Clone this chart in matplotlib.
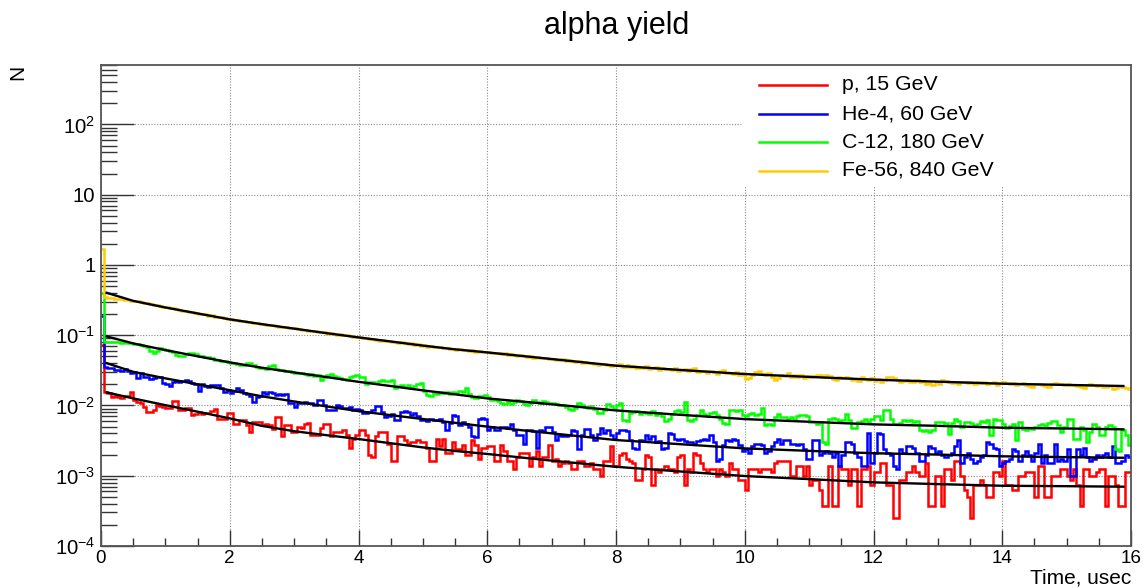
import numpy as np
import matplotlib
matplotlib.use("Agg")
import matplotlib.pyplot as plt
from matplotlib.ticker import MultipleLocator, LogLocator, FuncFormatter, NullFormatter
from matplotlib.patches import Rectangle
from matplotlib.lines import Line2D

plt.rcParams['font.family'] = ['Liberation Sans', 'DejaVu Sans']
plt.rcParams['mathtext.fontset'] = 'custom'
plt.rcParams['mathtext.rm'] = 'Liberation Sans'
plt.rcParams['mathtext.it'] = 'Liberation Sans:italic'
plt.rcParams['mathtext.bf'] = 'Liberation Sans:bold'

# ---------------- data ----------------
title = "alpha yield"
x_title = "Time, usec"
y_title = "N"
bin_width = 0.05          # usec
n_bins = 320
count_scale = 1.0 / 8000  # N per count

series_labels = ["p, 15 GeV", "He-4, 60 GeV", "C-12, 180 GeV", "Fe-56, 840 GeV"]
series_colors = ["#ff0000", "#0000ff", "#00ff00", "#ffcc00"]

counts_p = [
    576, 125, 119, 106, 108, 104, 101, 110, 110, 123, 95, 90, 86, 77, 65, 65, 70, 81, 78, 77,
    73, 73, 93, 93, 69, 69, 73, 73, 58, 60, 65, 60, 62, 62, 66, 71, 52, 52, 52, 63,
    63, 44, 44, 50, 50, 42, 34, 47, 47, 47, 42, 44, 42, 37, 55, 55, 29, 42, 42, 34,
    34, 40, 38, 44, 45, 30, 30, 30, 38, 44, 44, 29, 33, 33, 33, 36, 30, 20, 27, 30,
    36, 36, 30, 16, 15, 29, 34, 34, 34, 23, 13, 13, 29, 29, 26, 23, 24, 24, 26, 24,
    24, 20, 13, 13, 27, 21, 27, 17, 17, 24, 19, 19, 22, 16, 16, 26, 22, 14, 20, 20,
    21, 21, 13, 13, 22, 18, 13, 13, 10, 15, 17, 17, 17, 11, 15, 18, 11, 15, 15, 22,
    13, 14, 11, 12, 13, 12, 10, 10, 13, 13, 11, 11, 12, 10, 10, 8, 13, 13, 21, 11,
    11, 16, 17, 14, 13, 12, 7, 7, 10, 16, 15, 6, 10, 9, 10, 11, 10, 10, 9, 15,
    16, 6, 10, 9, 17, 16, 12, 10, 9, 10, 10, 8, 10, 9, 8, 12, 10, 10, 7, 7,
    5, 10, 10, 10, 9, 10, 10, 10, 9, 12, 13, 13, 13, 13, 8, 8, 11, 11, 8, 11,
    6, 7, 7, 5, 3, 3, 11, 3, 3, 11, 10, 10, 6, 10, 10, 3, 10, 10, 11, 6,
    9, 9, 12, 12, 6, 6, 2, 2, 7, 7, 9, 9, 11, 9, 8, 8, 12, 3, 3, 8,
    8, 3, 10, 10, 7, 13, 13, 8, 5, 4, 2, 6, 6, 7, 6, 4, 4, 9, 9, 8,
    13, 6, 6, 5, 5, 8, 8, 9, 9, 9, 4, 11, 11, 4, 4, 8, 8, 8, 10, 10,
    8, 7, 10, 6, 3, 10, 10, 8, 8, 9, 10, 10, 3, 8, 8, 6, 3, 3, 9, 9,
]

counts_he = [
    1520, 284, 275, 270, 255, 258, 250, 268, 245, 235, 240, 194, 229, 205, 200, 188, 195, 205, 200, 165,
    160, 150, 174, 176, 172, 180, 182, 178, 165, 160, 129, 162, 150, 145, 156, 158, 154, 140, 125, 132,
    119, 130, 140, 132, 122, 115, 108, 90, 104, 110, 125, 118, 126, 120, 112, 115, 114, 116, 88, 87,
    77, 86, 88, 89, 87, 88, 82, 96, 95, 80, 69, 70, 68, 81, 78, 73, 74, 76, 69, 72,
    70, 63, 62, 64, 70, 78, 78, 64, 55, 56, 60, 50, 49, 65, 66, 64, 58, 63, 56, 50,
    50, 48, 52, 50, 49, 51, 47, 36, 45, 58, 57, 42, 46, 44, 40, 29, 28, 52, 53, 51,
    36, 40, 36, 36, 40, 40, 38, 44, 36, 30, 30, 23, 36, 36, 35, 20, 36, 35, 40, 40,
    33, 26, 30, 29, 29, 30, 36, 35, 19, 30, 37, 37, 30, 26, 31, 38, 32, 36, 30, 27,
    32, 36, 36, 35, 26, 20, 19, 26, 25, 30, 27, 29, 24, 25, 19, 20, 32, 31, 27, 26,
    27, 25, 24, 24, 23, 25, 26, 27, 26, 30, 24, 13, 14, 22, 26, 25, 27, 26, 22, 18,
    19, 17, 21, 23, 23, 22, 17, 18, 21, 24, 27, 23, 26, 26, 23, 23, 22, 23, 19, 14,
    14, 26, 26, 16, 17, 18, 17, 15, 17, 11, 16, 24, 24, 23, 17, 15, 11, 11, 32, 12,
    17, 32, 31, 19, 17, 16, 11, 10, 19, 17, 21, 21, 20, 17, 13, 13, 16, 21, 20, 17,
    18, 16, 15, 16, 17, 21, 26, 12, 15, 17, 14, 12, 13, 15, 16, 24, 23, 20, 19, 11,
    12, 13, 14, 19, 18, 13, 16, 18, 16, 13, 17, 23, 12, 16, 12, 12, 23, 13, 14, 13,
    19, 8, 8, 19, 16, 20, 15, 13, 14, 16, 15, 16, 17, 15, 21, 12, 12, 13, 16, 15,
]

counts_c = [
    3200, 640, 650, 640, 630, 645, 625, 630, 610, 615, 605, 600, 575, 560, 540, 470, 450, 480, 520, 515,
    495, 480, 455, 420, 405, 400, 430, 445, 440, 425, 400, 410, 390, 395, 385, 360, 355, 345, 340, 335,
    325, 318, 310, 300, 305, 320, 325, 300, 285, 270, 272, 268, 290, 300, 262, 255, 258, 250, 245, 238,
    232, 228, 235, 225, 220, 222, 210, 215, 184, 200, 218, 222, 212, 205, 196, 190, 185, 200, 210, 216,
    205, 200, 163, 172, 170, 166, 178, 185, 180, 176, 182, 140, 150, 158, 148, 156, 142, 150, 160, 166,
    128, 112, 110, 122, 118, 126, 120, 124, 118, 125, 121, 130, 124, 140, 118, 104, 101, 108, 110, 112,
    104, 96, 99, 93, 88, 84, 90, 83, 89, 96, 92, 85, 82, 88, 97, 90, 86, 92, 91, 86,
    88, 84, 80, 82, 76, 72, 70, 73, 88, 80, 76, 74, 78, 72, 62, 63, 70, 84, 78, 72,
    80, 86, 50, 48, 62, 64, 66, 60, 65, 63, 60, 66, 58, 62, 56, 48, 52, 60, 67, 68,
    64, 90, 50, 48, 52, 58, 69, 60, 56, 62, 65, 58, 52, 45, 44, 68, 70, 66, 68, 58,
    56, 60, 62, 58, 60, 73, 42, 43, 42, 55, 60, 55, 54, 52, 54, 50, 56, 58, 59, 57,
    46, 47, 44, 46, 24, 23, 52, 53, 51, 48, 50, 60, 49, 38, 38, 47, 48, 51, 47, 52,
    57, 56, 50, 69, 68, 52, 44, 44, 45, 50, 48, 50, 47, 48, 36, 35, 36, 34, 36, 46,
    46, 47, 45, 31, 45, 52, 48, 40, 46, 47, 45, 42, 44, 48, 47, 49, 30, 51, 50, 49,
    44, 38, 41, 43, 26, 47, 37, 36, 38, 37, 40, 42, 44, 41, 45, 48, 48, 42, 34, 40,
    52, 51, 27, 27, 40, 36, 24, 33, 44, 40, 30, 30, 40, 42, 40, 19, 18, 36, 30, 22,
]

counts_fe = [
    13600, 2810, 2745, 2730, 2660, 2620, 2590, 2550, 2510, 2480, 2440, 2420, 2340, 2310, 2270, 2210, 2150, 2130, 2050, 2020,
    1990, 1930, 1920, 1860, 1850, 1790, 1780, 1720, 1700, 1680, 1620, 1600, 1580, 1520, 1530, 1470, 1440, 1430, 1390, 1360,
    1350, 1310, 1310, 1270, 1260, 1230, 1220, 1190, 1190, 1150, 1150, 1120, 1100, 1100, 1070, 1060, 1040, 1040, 1010, 1000,
    1000, 985, 950, 955, 930, 910, 930, 880, 875, 880, 845, 860, 830, 810, 820, 795, 800, 770, 765, 750,
    750, 725, 730, 700, 715, 690, 670, 690, 655, 665, 640, 650, 620, 640, 610, 600, 615, 580, 590, 570,
    575, 550, 565, 535, 545, 540, 520, 525, 505, 515, 495, 505, 485, 495, 470, 485, 465, 475, 455, 465,
    460, 450, 445, 445, 430, 440, 420, 425, 420, 405, 415, 400, 395, 400, 385, 395, 380, 375, 380, 365,
    370, 360, 355, 365, 345, 350, 340, 330, 340, 325, 330, 320, 325, 315, 305, 315, 310, 300, 295, 300,
    300, 310, 285, 300, 280, 290, 270, 285, 275, 295, 265, 270, 280, 255, 270, 260, 265, 255, 270, 250,
    255, 265, 245, 260, 270, 240, 250, 245, 235, 250, 240, 225, 245, 255, 230, 235, 225, 240, 220, 230,
    190, 195, 215, 240, 245, 225, 215, 230, 200, 185, 195, 220, 210, 230, 205, 215, 200, 220, 195, 210,
    200, 210, 215, 215, 205, 220, 210, 190, 185, 205, 195, 200, 195, 185, 190, 180, 200, 190, 185, 195,
    180, 190, 175, 185, 200, 205, 195, 185, 175, 180, 185, 175, 170, 185, 175, 180, 160, 165, 155, 170,
    160, 185, 180, 170, 165, 175, 160, 170, 175, 165, 170, 160, 175, 165, 170, 160, 165, 170, 155, 165,
    170, 165, 160, 168, 158, 162, 165, 158, 150, 145, 160, 163, 155, 150, 148, 160, 165, 160, 163, 158,
    160, 155, 158, 150, 145, 140, 155, 160, 155, 150, 158, 148, 145, 150, 135, 140, 150, 145, 140, 138,
]

# fitted curves (black), sampled at these times
fit_t = [0.07, 0.5, 1.0, 1.5, 2.0, 2.5, 3.0, 3.5, 4.0, 4.5, 5.0, 5.5, 6.0, 7.0, 8.0,
         9.0, 10.0, 11.0, 12.0, 13.0, 14.0, 15.0, 15.9]
fit_p = [0.0155, 0.0126, 0.0101, 0.00815, 0.00655, 0.00512, 0.0043, 0.00378, 0.00333, 0.0029,
         0.00253, 0.00225, 0.00204, 0.00164, 0.00134, 0.00115, 0.00099, 0.000895, 0.000805,
         0.00076, 0.00072, 0.00071, 0.000698]
fit_he = [0.0405, 0.0301, 0.0243, 0.020, 0.0165, 0.0135, 0.0114, 0.0097, 0.0083, 0.00728,
          0.00641, 0.00566, 0.0050, 0.00401, 0.00322, 0.00281, 0.00245, 0.00226, 0.00209,
          0.0020, 0.00189, 0.00184, 0.0018]
fit_c = [0.097, 0.0764, 0.0614, 0.0501, 0.041, 0.0344, 0.0295, 0.0254, 0.0217, 0.0189,
         0.0164, 0.0144, 0.0126, 0.0104, 0.0085, 0.00736, 0.0064, 0.00586, 0.00538,
         0.00513, 0.00482, 0.0047, 0.00457]
fit_fe = [0.406, 0.308, 0.248, 0.204, 0.168, 0.1435, 0.124, 0.107, 0.093, 0.0814, 0.0711,
          0.0629, 0.0569, 0.0458, 0.0368, 0.032, 0.028, 0.0255, 0.0233, 0.0218, 0.0204,
          0.0196, 0.0189]

x_range = (0, 16)
y_range = (1e-4, 700)

# ---------------- figure ----------------
W, H = 1143, 588
fig = plt.figure(figsize=(W / 100, H / 100), dpi=100)
L, R, T, B = 101, 1131, 65, 546
ax = fig.add_axes([L / W, 1 - B / H, (R - L) / W, (B - T) / H])

edges = np.arange(n_bins + 1) * bin_width
all_counts = [counts_p, counts_he, counts_c, counts_fe]
all_fits = [fit_p, fit_he, fit_c, fit_fe]
for cnt, col in zip(all_counts, series_colors):
    ax.stairs(np.asarray(cnt, dtype=float) * count_scale, edges, baseline=None,
              color=col, lw=1.8, zorder=3)
for f in all_fits:
    ax.plot(fit_t, f, color='black', lw=1.7, zorder=4, solid_capstyle='butt')

ax.set_yscale('log')
ax.set_xlim(*x_range)
ax.set_ylim(*y_range)

px = 0.72  # points per pixel
ax.xaxis.set_major_locator(MultipleLocator(2))
ax.xaxis.set_minor_locator(MultipleLocator(0.5))
ax.yaxis.set_major_locator(LogLocator(base=10, numticks=20))
ax.yaxis.set_minor_locator(LogLocator(base=10, subs=np.arange(2, 10), numticks=100))
ax.yaxis.set_minor_formatter(NullFormatter())


def yfmt(v, pos):
    e = int(round(np.log10(v)))
    if e == 0:
        return "1"
    if e == 1:
        return "10"
    return r"$10^{%d}$" % e


ax.yaxis.set_major_formatter(FuncFormatter(yfmt))
ax.tick_params(axis='x', which='major', direction='in', length=16 * px, width=1.0,
               color='#333333', top=False, labelsize=13.6, pad=3)
ax.tick_params(axis='x', which='minor', direction='in', length=8 * px, width=1.0,
               color='#333333', top=False)
ax.tick_params(axis='y', which='major', direction='in', length=33 * px, width=1.0,
               color='#333333', right=False, labelsize=14.6, pad=4)
ax.tick_params(axis='y', which='minor', direction='in', length=16 * px, width=1.0,
               color='#333333', right=False)

ax.set_axisbelow(True)
ax.grid(True, which='major', color='#8a8a8a', linestyle=(0, (1, 1.5)), lw=0.8)
for s in ax.spines.values():
    s.set_color('#555555')
    s.set_linewidth(1.3)
    s.set_zorder(5)

# legend (white box, no border)
def ax_xy(xp, yp):
    return (xp - L) / (R - L), (B - yp) / (B - T)

lx0, ly0 = ax_xy(743, 187)
lx1, ly1 = ax_xy(R, T)
ax.add_patch(Rectangle((lx0, ly0), lx1 - lx0, ly1 - ly0, transform=ax.transAxes,
                       facecolor='white', edgecolor='none', zorder=2.5))
leg_y = [85, 113.5, 142, 170.5]
for lab, col, yp in zip(series_labels, series_colors, leg_y):
    xa, ya = ax_xy(759, yp)
    xb, _ = ax_xy(827, yp)
    ax.add_line(Line2D([xa, xb], [ya, ya], transform=ax.transAxes, color=col, lw=1.8, zorder=6))
    xt, _ = ax_xy(842, yp)
    ax.text(xt, ya, lab, transform=ax.transAxes, ha='left', va='center',
            fontsize=15.3, zorder=6)

fig.text(617 / W, 1 - 26 / H, title, ha='center', va='center', fontsize=22)
fig.text(R / W, 1 - 584 / H, x_title, ha='right', va='baseline', fontsize=15)
fig.text(18 / W, 1 - 65 / H, y_title, ha='center', va='top', rotation=90, fontsize=15)

fig.savefig("out.png", dpi=100)
